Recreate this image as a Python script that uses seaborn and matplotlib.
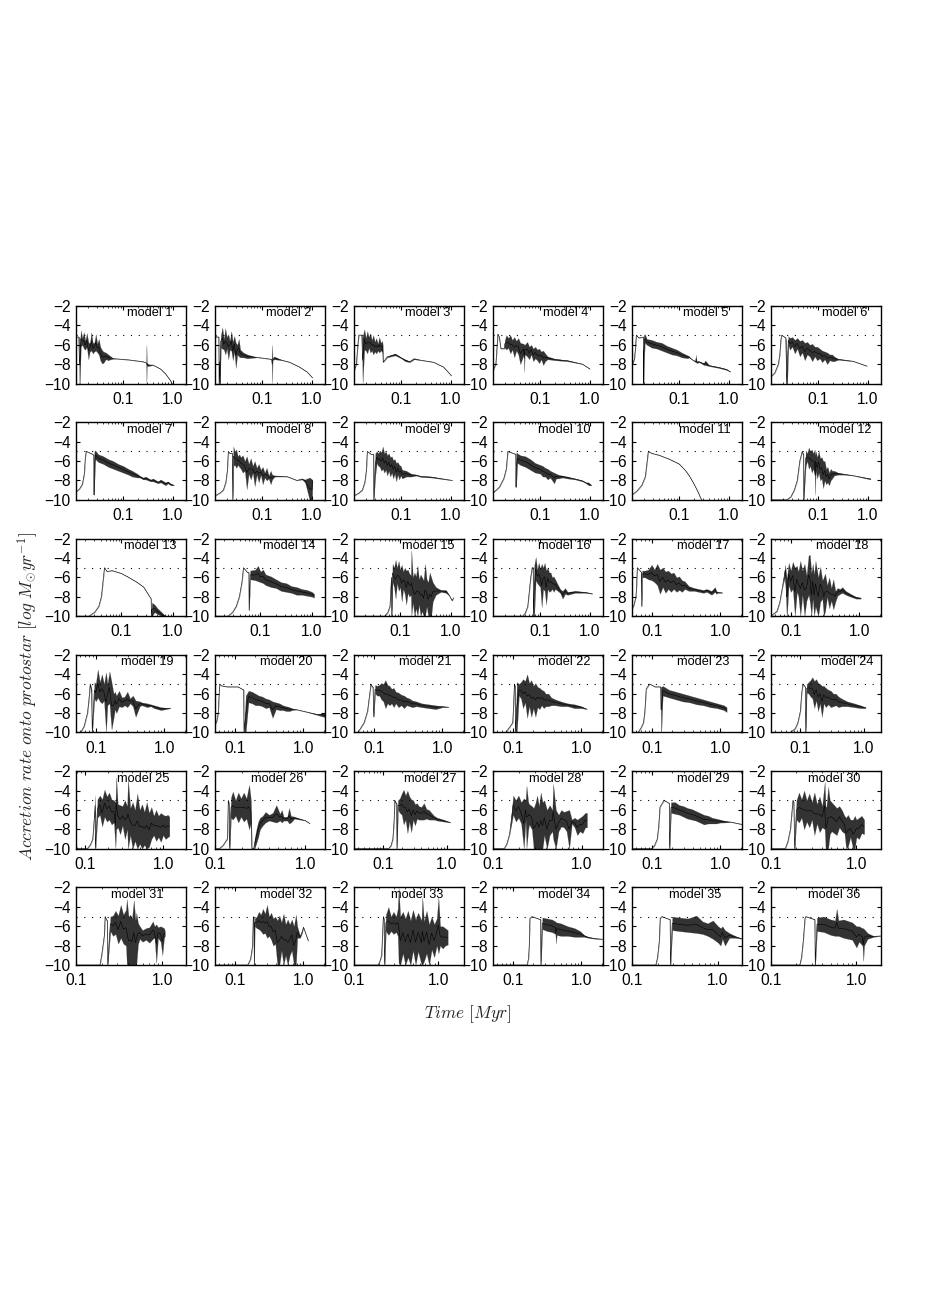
import matplotlib
matplotlib.use('Agg')
import matplotlib.pyplot as plt
from matplotlib.ticker import LogLocator, NullFormatter
import pandas as pd
import seaborn as sns

# each model: log10 time [Myr], upper and lower edge of the accretion rate
t01 = [-1.95,-1.89,-1.88,-1.87,-1.85,-1.82,-1.79,-1.76,-1.73,-1.70,-1.67,-1.64,-1.61,-1.58,-1.55,-1.52,-1.49,-1.46,-1.43,-1.40,-1.35,-1.30,-1.25,-1.20,-1.15,-.9,-.6,-.54,-.533,-.525,-.5,-.4,-.25,-.15,-.05,-.02]
h01 = [-5.2,-5.2,-5.2,-6,-4.5,-5.3,-4.7,-5.6,-4.8,-5.7,-5.9,-4.7,-5.8,-5.8,-4.9,-5.9,-5.4,-6.2,-6.5,-6.7,-6.8,-7,-7.2,-7.4,-7.45,-7.55,-7.75,-7.85,-6,-7.8,-8,-8.1,-8.5,-9,-9.7,-10]
l01 = [-5.2,-5.2,-10,-10,-6.2,-6,-6.4,-6.5,-6.2,-7.5,-6.7,-6.6,-6.9,-6.7,-6.6,-6.8,-7,-7.6,-7.9,-7.9,-7.5,-7.6,-7.5,-7.45,-7.45,-7.55,-7.75,-7.85,-10,-8.2,-8.2,-8.1,-8.5,-9,-9.7,-10]
t02 = [-1.95,-1.92,-1.87,-1.865,-1.85,-1.845,-1.83,-1.80,-1.77,-1.74,-1.71,-1.68,-1.65,-1.62,-1.59,-1.56,-1.53,-1.50,-1.47,-1.44,-1.38,-1.30,-1.1,-.81,-.80,-.79,-.76,-.6,-.45,-.25,-.1,.01]
h02 = [-4.9,-5.2,-5.2,-10,-5.5,-10,-5,-4.2,-5.4,-4.3,-5.2,-4.9,-5.6,-4.6,-5.7,-5.1,-5.8,-6,-5.4,-6.5,-6.8,-7,-7.3,-7.5,-6,-7.5,-7.2,-7.6,-7.8,-8.3,-8.8,-9.4]
l02 = [-4.9,-5.2,-5.2,-10,-10,-10,-6.3,-6.4,-6.5,-7,-6.4,-7.5,-6.5,-6.6,-7.6,-6.7,-8.4,-7,-7.2,-7.3,-7.3,-7.4,-7.3,-7.5,-10,-7.6,-7.5,-7.6,-7.8,-8.3,-8.8,-9.4]
t03 = [-1.95,-1.90,-1.87,-1.85,-1.79,-1.775,-1.74,-1.71,-1.68,-1.65,-1.62,-1.59,-1.56,-1.53,-1.50,-1.47,-1.44,-1.41,-1.38,-1.37,-1.36,-1.28,-1.12,-1.0,-.92,-.83,-.74,-.6,-.35,-.15,.01]
h03 = [-8.8,-8,-6,-5,-5,-5.2,-4.4,-5.3,-4.6,-5.2,-4.8,-5.5,-5,-5.7,-5.3,-5.9,-5.2,-5.8,-5.6,-6,-7.8,-7.2,-6.9,-7.3,-7.5,-7.7,-7.4,-7.6,-7.8,-8.3,-9.2]
l03 = [-8.8,-8,-6,-5,-5,-10,-6.5,-6.6,-6.9,-6.3,-6.8,-6.6,-7,-6.7,-6.9,-6.6,-6.8,-6.6,-6.7,-6.9,-7.8,-7.3,-7.1,-7.4,-7.7,-7.8,-7.5,-7.6,-7.8,-8.3,-9.2]
t04 = [-1.95,-1.89,-1.87,-1.85,-1.82,-1.79,-1.72,-1.71,-1.68,-1.64,-1.60,-1.56,-1.52,-1.48,-1.44,-1.40,-1.33,-1.32,-1.31,-1.26,-1.22,-1.18,-1.14,-1.10,-1.06,-1.02,-.98,-.94,-.90,-.85,-.7,-.45,-.15,.0]
h04 = [-8.7,-8,-6.5,-4.9,-5.2,-6.4,-6.4,-5.5,-5,-5.3,-5,-5.5,-5.2,-5.6,-5.3,-5.8,-5.9,-6,-6,-5.7,-6.2,-6,-6.4,-6.2,-6.5,-6.4,-6.7,-6.6,-6.9,-7.2,-7.45,-7.6,-8,-8.5]
l04 = [-8.7,-8,-6.5,-4.9,-5.2,-6.4,-6.4,-6.3,-6.5,-6.3,-6.9,-6.5,-7.3,-6.6,-7,-8,-7,-8.8,-7,-7.2,-7.5,-7,-7.7,-7.4,-7.6,-7.9,-7.5,-8.1,-7.7,-7.5,-7.6,-7.7,-8,-8.5]
t05 = [-1.95,-1.90,-1.88,-1.86,-1.81,-1.72,-1.715,-1.71,-1.69,-1.65,-1.55,-1.45,-1.35,-1.25,-1.15,-1.05,-.95,-.83,-.80,-.75,-.67,-.66,-.65,-.6,-.5,-.48,-.4,-.2,-.05,.03]
h05 = [-8.2,-7.5,-6.5,-5,-5.3,-5.2,-10,-5,-4.9,-5.4,-5.5,-5.7,-5.8,-6.1,-6.3,-6.5,-6.8,-7.1,-7.2,-7.5,-7.7,-7,-7.7,-7.7,-7.9,-7.6,-8.1,-8.3,-8.5,-8.8]
l05 = [-8.2,-7.5,-6.5,-5,-5.3,-5.2,-10,-8.8,-5.8,-6,-6.3,-6.4,-6.6,-6.8,-7,-7.1,-7.3,-7.4,-7.3,-7.5,-7.8,-7.8,-7.9,-7.8,-8.1,-8.1,-8.2,-8.4,-8.6,-8.8]
t06 = [-1.95,-1.87,-1.80,-1.77,-1.75,-1.73,-1.65,-1.64,-1.63,-1.62,-1.60,-1.57,-1.52,-1.47,-1.42,-1.37,-1.32,-1.27,-1.22,-1.17,-1.12,-1.07,-1.02,-.97,-.92,-.87,-.82,-.77,-.72,-.68,-.6,-.3,-.02]
h06 = [-9.3,-8.9,-8,-7,-5.5,-5,-5.3,-5.5,-10,-7,-5.1,-5.3,-5.2,-5.5,-5.3,-5.6,-5.5,-5.8,-5.7,-6,-5.9,-6.2,-6.2,-6.4,-6.6,-6.7,-6.8,-7,-7,-7.2,-7.45,-7.7,-8.2]
l06 = [-9.3,-8.9,-8,-7,-5.5,-5,-5.3,-10,-10,-10,-6,-6.5,-6.2,-6.9,-6.4,-7.2,-6.8,-7.6,-7,-7.2,-7.7,-7.2,-7.6,-7.4,-7.8,-7.5,-8,-7.6,-7.7,-7.7,-7.55,-7.7,-8.2]
t07 = [-1.95,-1.88,-1.82,-1.78,-1.76,-1.74,-1.61,-1.59,-1.585,-1.58,-1.56,-1.5,-1.4,-1.3,-1.2,-1.1,-1,-.9,-.82,-.72,-.67,-.6,-.55,-.45,-.4,-.3,-.25,-.15,-.1,-.05,.02]
h07 = [-9.2,-8.9,-8.4,-7.3,-5.6,-5,-5.3,-5.4,-9.5,-5,-4.9,-5.3,-5.5,-5.8,-6,-6.3,-6.5,-6.8,-7,-7.3,-7.5,-7.7,-7.6,-7.9,-7.8,-8.1,-7.9,-8.2,-8.1,-8.3,-8.5]
l07 = [-9.2,-8.9,-8.4,-7.3,-5.6,-5,-5.3,-5.4,-9.5,-8.5,-5.8,-6.1,-6.3,-6.6,-6.8,-7,-7.2,-7.4,-7.6,-7.7,-7.7,-7.9,-7.9,-8.1,-8.1,-8.3,-8.2,-8.5,-8.3,-8.5,-8.5]
t08 = [-1.95,-1.85,-1.78,-1.73,-1.70,-1.68,-1.65,-1.60,-1.59,-1.58,-1.55,-1.52,-1.49,-1.46,-1.43,-1.39,-1.35,-1.31,-1.27,-1.23,-1.19,-1.15,-1.11,-1.07,-1.03,-.99,-.95,-.91,-.87,-.83,-.80,-.75,-.5,-.3,-.2,-.14,-.1,-.05,-.02,.0,.01]
h08 = [-9.6,-9.3,-9,-8.2,-7,-5,-5.2,-5.2,-10,-4.5,-5,-4.8,-5.5,-5.3,-5.6,-5.4,-6,-5.5,-6.3,-5.7,-6.5,-6,-6.7,-6.3,-6.9,-6.6,-7.2,-6.7,-7.5,-7,-7.4,-7.5,-7.6,-8,-7.8,-7.9,-7.8,-7.7,-7.8,-7.9,-8]
l08 = [-9.6,-9.3,-9,-8.2,-7,-5,-5.2,-5.2,-10,-6.5,-6.4,-6.7,-6.4,-6.6,-6.8,-7.2,-7,-8.9,-7.3,-7.9,-7.2,-8.6,-7.4,-8.2,-7.4,-8.4,-7.7,-8,-7.8,-8.4,-7.9,-7.6,-7.6,-8,-7.9,-8.2,-9,-10,-10,-10,-8]
t09 = [-1.95,-1.85,-1.78,-1.73,-1.70,-1.68,-1.6,-1.555,-1.55,-1.52,-1.49,-1.46,-1.43,-1.40,-1.37,-1.34,-1.31,-1.28,-1.25,-1.22,-1.19,-1.16,-1.13,-1.10,-1.07,-1.04,-1.01,-.98,-.9,-.8,-.7,-.6,-.4,.03]
h09 = [-9.6,-9.3,-9,-8.2,-7,-5,-5.3,-5.3,-10,-5.2,-5,-5.2,-4.9,-5.1,-4.5,-5.2,-5,-5.4,-5.2,-5.6,-5.5,-5.9,-5.8,-6.2,-6.1,-6.4,-6.5,-6.9,-7,-7.3,-7.4,-7.55,-7.6,-8]
l09 = [-9.6,-9.3,-9,-8.2,-7,-5,-5.3,-5.3,-10,-7.5,-6.2,-6.5,-6.6,-7,-6.8,-7.2,-6.9,-7.5,-7,-7.6,-7.2,-7.8,-7.3,-8.1,-7.4,-7.9,-7.5,-7.8,-7.6,-7.6,-7.5,-7.65,-7.7,-8]
t10 = [-1.95,-1.82,-1.73,-1.68,-1.65,-1.49,-1.485,-1.48,-1.46,-1.4,-1.3,-1.2,-1.1,-1,-.95,-.9,-.85,-.8,-.72,-.68,-.64,-.55,-.45,-.3,-.15,-.08,-.03,.03]
h10 = [-9.3,-8.7,-7.8,-6.8,-5,-5.3,-8.7,-5.1,-5.2,-5.4,-5.5,-5.8,-6.2,-6.4,-6.5,-6.7,-6.8,-7,-7.2,-7.3,-7.4,-7.5,-7.6,-7.8,-8,-8.2,-8.2,-8.5]
l10 = [-9.3,-8.7,-7.8,-6.8,-5,-5.3,-8.7,-8.5,-6.2,-6.4,-6.6,-6.9,-7.2,-7.3,-7.6,-7.6,-7.9,-7.7,-8.3,-7.8,-7.8,-7.7,-7.8,-7.9,-8.1,-8.3,-8.5,-8.5]
t11 = [-1.95,-1.85,-1.75,-1.68,-1.65,-1.62,-1.55,-1.4,-1.2,-1.0,-.87,-.8,-.72,-.62,-.58,-.55]
h11 = [-9.5,-9.1,-8.5,-7.6,-6.3,-5,-5.2,-5.4,-5.8,-6.3,-7,-7.5,-8.2,-9.2,-9.7,-10]
l11 = [-9.5,-9.1,-8.5,-7.6,-6.3,-5,-5.2,-5.4,-5.8,-6.3,-7,-7.5,-8.2,-9.2,-9.7,-10]
t12 = [-1.95,-1.63,-1.55,-1.48,-1.42,-1.37,-1.32,-1.3,-1.295,-1.29,-1.25,-1.22,-1.19,-1.16,-1.13,-1.10,-1.07,-1.06,-1.05,-1.02,-.99,-.96,-.93,-.90,-.87,-.84,-.81,-.78,-.75,-.72,-.68,-.6,-.5,-.3,.05]
h12 = [-10,-10,-9.7,-9,-8,-6,-5,-5.3,-5.3,-10,-4.9,-5.2,-4.6,-5,-4.8,-5.2,-4.8,-5.4,-5,-5.6,-5,-5.7,-5.6,-6,-6,-6.8,-6.6,-7.2,-6.8,-7,-7,-7.2,-7.3,-7.5,-7.8]
l12 = [-10,-10,-9.7,-9,-8,-6,-5,-5.3,-5.3,-10,-6.5,-6,-6.8,-6.5,-7.2,-6.8,-7.5,-9.5,-7,-7.8,-7.2,-8,-7.8,-8.8,-8,-8.4,-8.2,-8.5,-8,-7.8,-7.5,-7.4,-7.4,-7.5,-7.9]
t13 = [-1.89,-1.63,-1.52,-1.44,-1.39,-1.35,-1.33,-1.28,-1.18,-1.0,-.86,-.7,-.57,-.44,-.425,-.42,-.41,-.36,-.3,-.22,-.15]
h13 = [-10,-10,-9.6,-9,-8,-6,-5,-5.4,-5.3,-5.6,-6,-6.5,-7,-8.1,-8.2,-10,-8.6,-8.8,-9.2,-9.6,-10]
l13 = [-10,-10,-9.6,-9,-8,-6,-5,-5.4,-5.3,-5.6,-6,-6.5,-7,-8.1,-8.2,-10,-10,-9.6,-9.8,-10,-10]
t14 = [-1.89,-1.63,-1.54,-1.47,-1.41,-1.36,-1.33,-1.25,-1.225,-1.22,-1.2,-1.1,-1.05,-1,-.95,-.9,-.8,-.7,-.6,-.5,-.4,-.3,-.2,-.1,0,.04]
h14 = [-10,-10,-9.6,-9,-8,-6.5,-5,-5.5,-5.5,-9.4,-5.3,-5.2,-4.8,-5.4,-5.2,-5.7,-5.9,-6.2,-6.5,-6.6,-6.9,-7,-7.2,-7.3,-7.5,-7.7]
l14 = [-10,-10,-9.6,-9,-8,-6.5,-5,-5.5,-5.5,-9.4,-6.2,-6.3,-6.4,-6.5,-6.6,-6.8,-7,-7.1,-7.4,-7.5,-7.6,-7.8,-7.8,-7.9,-8,-8.1]
t15 = [-1.92,-1.3,-1.24,-1.2,-1.17,-1.165,-1.15,-1.12,-1.09,-1.06,-1.03,-1,-.97,-.94,-.91,-.88,-.85,-.82,-.79,-.78,-.75,-.72,-.69,-.66,-.63,-.6,-.57,-.54,-.51,-.48,-.45,-.42,-.39,-.36,-.3,-.2,-.1,-.03,.02,.05]
h15 = [-10,-10,-9.6,-9,-6,-10,-4.6,-5,-4.2,-5,-4.3,-5.2,-4.7,-5.4,-5,-5.3,-5.2,-5.6,-5.8,-3.2,-6,-5.5,-5.9,-4.8,-6.2,-5.7,-6,-6.3,-4.6,-6.2,-6.5,-5.5,-6,-6.5,-7,-7.3,-7.3,-7.9,-8.4,-8.1]
l15 = [-10,-10,-9.6,-9,-6,-10,-6.5,-7,-8.2,-6.6,-7.4,-7,-8.5,-7.2,-7.7,-8.8,-7.6,-8,-7.8,-10,-8.6,-10,-9.2,-10,-8.8,-10,-9.5,-10,-10,-9,-10,-10,-10,-8.5,-7.8,-7.5,-7.6,-7.9,-8.4,-8.1]
t16 = [-1.95,-1.35,-1.3,-1.25,-1.19,-1.16,-1.14,-1.135,-1.12,-1.09,-1.06,-1.03,-1,-.97,-.94,-.91,-.88,-.85,-.82,-.79,-.76,-.73,-.7,-.6,-.55,-.5,-.45,-.3,-.1,.05]
h16 = [-10,-10,-9.7,-9,-6,-5,-5,-10,-4.8,-3.9,-5.2,-4.5,-5.1,-4.6,-5,-4.5,-5.3,-5,-5.5,-5.5,-6,-5.9,-6.2,-7.2,-7.4,-7.1,-7.5,-7.4,-7.5,-7.7]
l16 = [-10,-10,-9.7,-9,-6,-5,-5,-10,-10,-6.3,-6.6,-6.8,-7,-9.1,-7.2,-7.4,-8.8,-7.2,-7.5,-7.4,-7.2,-7.5,-7.2,-7.6,-8.2,-7.7,-7.8,-7.6,-7.6,-7.7]
t17 = [-1.29,-1.26,-1.23,-1.22,-1.21,-1.16,-1.15,-1.145,-1.14,-1.1,-1.05,-1,-.96,-.92,-.88,-.84,-.8,-.76,-.72,-.68,-.64,-.6,-.56,-.52,-.46,-.38,-.25,-.2,-.13,-.08,-.06,-.04,.03]
h17 = [-9.3,-8.9,-8,-6.8,-5,-5.4,-5.5,-9,-5.3,-5.3,-5.2,-4.7,-5.2,-4.6,-5.2,-5,-5.4,-5.3,-5.6,-5.5,-6,-5.9,-6.3,-6.4,-6.9,-7.1,-7.3,-7.2,-7.4,-7,-7.4,-7.5,-7.6]
l17 = [-9.3,-8.9,-8,-6.8,-5,-5.4,-5.5,-9,-6,-6,-6.2,-6.3,-6.5,-6.8,-7.7,-7,-7.6,-7.2,-7.5,-7.2,-7.5,-7.3,-7.5,-7.2,-7.4,-7.4,-7.6,-7.5,-7.8,-7.5,-7.7,-7.6,-7.6]
t18 = [-1.29,-1.2,-1.16,-1.12,-1.08,-1.06,-1.055,-1.03,-1,-.97,-.94,-.91,-.89,-.86,-.83,-.8,-.77,-.74,-.72,-.7,-.68,-.66,-.64,-.6,-.57,-.54,-.52,-.5,-.47,-.44,-.41,-.38,-.35,-.32,-.28,-.25,-.2,-.13,-.05,.02]
h18 = [-10,-9.5,-8.6,-7,-4.7,-6,-6,-4.5,-5.3,-4.4,-5,-4.8,-5.4,-4.3,-5.3,-4.6,-5.8,-3.7,-3.7,-5.6,-4.6,-5.7,-4.3,-6,-4.9,-6.3,-6,-5.6,-6.8,-6,-7.1,-6.2,-7.4,-7.1,-7.2,-7,-7.4,-7.7,-8,-8.1]
l18 = [-10,-9.5,-8.6,-7,-5.8,-10,-10,-6.8,-7.5,-7.2,-10,-7.5,-7.9,-10,-7.8,-10,-8.4,-7.8,-8.6,-10,-8.2,-10,-9,-10,-8.5,-8.2,-10,-9.5,-8,-9.2,-8.4,-9.3,-8.5,-7.9,-7.7,-7.6,-7.8,-8,-8.2,-8.2]
t19 = [-1.22,-1.17,-1.12,-1.1,-1.08,-1.06,-1.05,-1.02,-1,-.97,-.94,-.91,-.88,-.85,-.83,-.8,-.77,-.74,-.72,-.7,-.66,-.62,-.58,-.54,-.5,-.46,-.42,-.36,-.33,-.25,-.2,-.15,-.05,.09]
h19 = [-10,-9.4,-8,-6.7,-5,-5.5,-10,-4.8,-5,-3.5,-4.8,-4,-5,-3.8,-5,-3.7,-4.8,-6,-5.8,-6.2,-5.7,-6.4,-6.3,-5.8,-6.5,-6.2,-6.7,-6.8,-6.9,-7,-7.1,-7.2,-7.4,-7.5]
l19 = [-10,-9.4,-8,-6.7,-5,-6,-10,-6.5,-6.8,-6.4,-6.8,-7,-6.7,-10,-7.2,-7,-9.7,-8.5,-7.6,-8,-7.3,-7.4,-7.2,-7.4,-7,-7.3,-8.4,-7.3,-7.2,-7.4,-7.3,-7.5,-7.7,-7.5]
t20 = [-1.29,-1.26,-1.24,-1.23,-1.22,-1.19,-1.1,-.95,-.875,-.87,-.865,-.84,-.8,-.75,-.7,-.65,-.6,-.55,-.5,-.45,-.4,-.35,-.3,-.25,-.2,-.17,-.1,.05,.2,.3,.32]
h20 = [-9.3,-8.8,-8,-6.5,-5,-5.2,-5.3,-5.3,-5.6,-5.6,-10,-6.2,-5.7,-5.8,-6,-6.2,-6.3,-6.5,-6.6,-6.8,-6.9,-7,-7.2,-7.3,-7.4,-7.5,-7.65,-7.9,-8.1,-8,-8.3]
l20 = [-9.3,-8.8,-8,-6.5,-5,-5.2,-5.3,-5.3,-5.6,-5.6,-10,-10,-6.9,-7,-7.2,-7.2,-7.3,-7.5,-7.4,-8.5,-7.6,-7.7,-7.7,-7.8,-7.8,-7.7,-7.65,-7.9,-8.2,-8.4,-8.3]
t21 = [-1.29,-1.23,-1.14,-1.09,-1.04,-1.02,-1.01,-1,-.98,-.95,-.92,-.89,-.86,-.83,-.8,-.77,-.74,-.71,-.68,-.64,-.6,-.56,-.52,-.48,-.44,-.38,-.3,-.2,-.1,0,.09]
h21 = [-10,-10,-9,-7.8,-5,-5.3,-5.3,-8.4,-5.1,-5.2,-5.1,-4.9,-5,-4.6,-5.1,-5.2,-5.5,-5.4,-5.8,-5.9,-6.1,-6.2,-6.4,-6.5,-6.7,-6.8,-7,-7.1,-7.2,-7.3,-7.4]
l21 = [-10,-10,-9,-7.8,-5,-5.3,-5.3,-8.4,-6,-6.2,-6.2,-6.6,-6.8,-7.5,-7,-7.2,-7,-7.4,-7,-7.4,-7.2,-7.5,-7.2,-7.3,-7.4,-7.3,-7.4,-7.5,-7.6,-7.4,-7.4]
t22 = [-1.29,-1.1,-1,-.99,-.975,-.97,-.965,-.96,-.94,-.91,-.88,-.85,-.82,-.79,-.76,-.73,-.7,-.67,-.64,-.61,-.58,-.55,-.52,-.48,-.44,-.38,-.3,-.2,-.1,0,.08]
h22 = [-10,-10,-9,-7.5,-5,-5.2,-5.2,-10,-4.8,-5,-4.8,-4.5,-4.7,-4,-4.9,-4.6,-5.2,-4.9,-5.3,-5.4,-5.6,-5.7,-6,-6,-6.4,-6.6,-6.8,-7,-7.1,-7.3,-7.6]
l22 = [-10,-10,-9,-7.5,-5,-5.2,-5.2,-10,-10,-6.2,-6.5,-7.5,-6.9,-8.5,-7.3,-8.4,-7.5,-8.4,-7.4,-7.6,-7.2,-7.5,-7.3,-7.3,-7.2,-7.2,-7.3,-7.3,-7.5,-7.5,-7.6]
t23 = [-1.29,-1.2,-1.16,-1.12,-1.1,-1.08,-1.03,-.95,-.87,-.865,-.86,-.84,-.75,-.65,-.55,-.45,-.35,-.25,-.15,-.05,.05,.09]
h23 = [-10,-10,-9.6,-9,-7.8,-5.5,-5,-5.3,-5.3,-5.3,-5.3,-5.2,-5.6,-5.8,-6,-6.2,-6.4,-6.6,-6.8,-7,-7.2,-7.4]
l23 = [-10,-10,-9.6,-9,-7.8,-5.5,-5,-5.3,-5.3,-10,-10,-6.2,-6.4,-6.6,-6.8,-6.9,-7.1,-7.2,-7.4,-7.5,-7.7,-7.9]
t24 = [-1.47,-1.16,-1.08,-1.04,-1,-.98,-.96,-.925,-.92,-.915,-.9,-.87,-.84,-.81,-.78,-.75,-.72,-.69,-.66,-.63,-.6,-.56,-.52,-.48,-.44,-.4,-.35,-.26,-.15,-.05,.03]
h24 = [-10,-10,-9.6,-9,-7.8,-6,-5,-5.3,-5.3,-10,-5,-4.8,-4.6,-4.3,-4.7,-4.5,-4.9,-5,-5.2,-5.2,-5.4,-5.6,-5.7,-6,-6,-6.3,-6.5,-6.8,-7,-7.2,-7.4]
l24 = [-10,-10,-9.6,-9,-7.8,-6,-5,-5.3,-5.3,-10,-5.9,-6,-6.3,-6.5,-7.5,-6.7,-7.8,-7,-8.4,-7,-7.4,-7.1,-7.4,-7.3,-7.2,-7.4,-7.3,-7.3,-7.4,-7.5,-7.5]
t25 = [-1.12,-.97,-.93,-.9,-.88,-.87,-.865,-.84,-.81,-.78,-.75,-.72,-.69,-.66,-.63,-.61,-.6,-.58,-.55,-.52,-.49,-.46,-.45,-.42,-.39,-.36,-.33,-.3,-.27,-.24,-.21,-.18,-.15,-.12,-.09,-.06,-.03,0,.03,.06,.08]
h25 = [-10,-10,-9.6,-9,-6.8,-4.5,-10,-4.9,-4.5,-4.9,-3.9,-4.6,-4.2,-4.9,-5,-5.2,-2.6,-5.4,-5.5,-5.6,-5,-5.6,-2.8,-5.8,-5.2,-6,-4.3,-6,-5.4,-6.2,-5.2,-6.3,-5.7,-6.6,-6,-6.6,-6.3,-6.5,-6.6,-6.5,-6.7]
l25 = [-10,-10,-9.6,-9,-6.8,-6.6,-10,-6.8,-6.5,-7.7,-6.7,-7.2,-7,-7.5,-7.3,-10,-8,-7.8,-8.5,-7.6,-9,-8,-10,-8.6,-10,-9.2,-10,-9.5,-10,-9.6,-10,-9.8,-9,-8.6,-9.2,-8.8,-9.3,-8.6,-9,-8.8,-8.7]
t26 = [-1,-.95,-.91,-.86,-.855,-.85,-.84,-.835,-.82,-.8,-.77,-.74,-.71,-.68,-.65,-.62,-.6,-.59,-.58,-.57,-.56,-.54,-.52,-.5,-.47,-.44,-.4,-.36,-.32,-.28,-.26,-.24,-.2,-.18,-.16,-.12,0,.05]
h26 = [-10,-10,-9.7,-9,-7.4,-5,-5.4,-10,-4.7,-4.1,-5,-4.2,-4.8,-4.2,-4.8,-3.4,-5,-10,-10,-10,-9,-8,-7.2,-6.8,-6.6,-6.2,-6.5,-6.3,-5.5,-6.4,-6,-6.7,-6.7,-5.8,-6.6,-6.7,-7.1,-7.4]
l26 = [-10,-10,-9.7,-9,-7.4,-5,-5.4,-10,-6.8,-7,-6.6,-7.3,-6.7,-7.2,-6.9,-8,-7.3,-10,-10,-10,-10,-9.4,-8.8,-8,-7.6,-7.3,-7.1,-7.2,-7.3,-7.1,-7.3,-7.1,-7.1,-7.4,-7.3,-6.9,-7.1,-7.4]
t27 = [-1.47,-.92,-.88,-.85,-.83,-.82,-.8,-.79,-.785,-.77,-.74,-.71,-.68,-.65,-.62,-.59,-.56,-.53,-.5,-.47,-.44,-.4,-.36,-.32,-.28,-.24,-.2,-.15,-.05,.06]
h27 = [-10,-10,-9.7,-9,-7,-5,-5.3,-5.3,-10,-5,-4.8,-4.3,-3.9,-4.5,-4,-4.6,-4.9,-5,-5.4,-5.3,-5.6,-5.7,-5.3,-5.9,-6,-6.3,-6.6,-6.8,-7,-7.3]
l27 = [-10,-10,-9.7,-9,-7,-5,-5.3,-5.3,-10,-6,-6.3,-6.5,-7.5,-7,-8.4,-7.2,-8.3,-7,-7.6,-6.9,-7,-7,-7,-6.9,-7,-7,-7,-7.1,-7.2,-7.3]
t28 = [-1,-.87,-.84,-.81,-.78,-.77,-.74,-.71,-.68,-.65,-.63,-.62,-.6,-.59,-.56,-.54,-.52,-.5,-.48,-.46,-.44,-.42,-.39,-.36,-.33,-.32,-.29,-.26,-.23,-.2,-.17,-.14,-.11,-.08,-.05,-.02,.01,.04,.06]
h28 = [-10,-10,-9.5,-8.5,-5.5,-4.5,-5,-4.5,-5.2,-4.8,-5,-3.5,-5.2,-5.4,-5.6,-5.8,-5.3,-4.5,-5.6,-4.2,-5.2,-5,-6,-5.5,-6,-3.3,-6,-6.5,-6,-6.2,-6.1,-6,-7,-6.8,-7,-6.8,-6.6,-6.3,-6.3]
l28 = [-10,-10,-9.5,-8.5,-7,-6.5,-7.2,-6.8,-7.4,-10,-7,-10,-8,-7.5,-8,-10,-10,-10,-10,-10,-10,-8.6,-10,-8.6,-8.2,-9,-10,-8.2,-7.7,-7.8,-8.2,-10,-7.4,-7.8,-8.6,-8.2,-8.4,-7.8,-7.8]
t29 = [-1.29,-1,-.96,-.92,-.9,-.88,-.82,-.75,-.745,-.74,-.72,-.66,-.6,-.54,-.48,-.42,-.36,-.3,-.24,-.18,-.12,-.06,0,.05,.15,.32]
h29 = [-10,-10,-9.7,-9,-7.8,-5.7,-5,-5.3,-5.3,-10,-5.2,-5.2,-5.5,-5.6,-5.8,-5.9,-6.1,-6.3,-6.5,-6.6,-6.8,-6.9,-7,-7.1,-7.25,-7.5]
l29 = [-10,-10,-9.7,-9,-7.8,-5.7,-5,-5.3,-5.3,-10,-6.3,-6.4,-6.5,-6.7,-6.9,-7,-7.1,-7.3,-7.5,-7.4,-7.4,-7.4,-7.3,-7.3,-7.25,-7.5]
t30 = [-1,-.83,-.8,-.77,-.74,-.73,-.72,-.7,-.67,-.64,-.61,-.58,-.55,-.52,-.49,-.46,-.43,-.4,-.37,-.36,-.35,-.33,-.31,-.29,-.26,-.23,-.2,-.17,-.14,-.12,-.1,-.07,-.04,-.02,0,.03,.06,.09]
h30 = [-10,-10,-9.3,-8,-5,-5.2,-10,-5,-4.2,-4.9,-4,-5,-4.3,-5.2,-4.2,-5.4,-4.6,-5.6,-3.1,-5.6,-5.7,-3.6,-5,-5.2,-5.5,-5.8,-5.6,-6,-6.6,-6.8,-6.5,-7,-7,-6.6,-7,-6.8,-6.6,-7]
l30 = [-10,-10,-9.3,-8,-5,-5.2,-10,-7,-7.3,-6.8,-8,-7.2,-7.8,-7,-8.6,-7.4,-8.3,-7.8,-8,-10,-10,-10,-8.5,-8.2,-8.4,-8.6,-7.8,-8.2,-8.4,-10,-9.8,-8.8,-10,-10,-8.8,-9,-8.4,-8.5]
t31 = [-1,-.72,-.7,-.67,-.66,-.64,-.635,-.63,-.6,-.57,-.54,-.51,-.48,-.45,-.42,-.41,-.39,-.37,-.35,-.33,-.31,-.3,-.28,-.26,-.23,-.19,-.15,-.11,-.09,-.07,-.05,-.02,0,.02,.03]
h31 = [-10,-10,-9,-7,-5,-5.4,-5.4,-10,-5,-4.9,-4.4,-4.9,-3.8,-4.8,-4.3,-3.2,-5,-4.8,-5.2,-3.3,-5.4,-4.6,-5.7,-6,-6.4,-6.2,-6.1,-5.5,-6,-5.8,-6.1,-6,-6.1,-6.2,-6.5]
l31 = [-10,-10,-9,-7,-5,-5.4,-5.4,-10,-6.5,-7,-6.8,-7.8,-7.2,-7.8,-8,-10,-10,-10,-10,-10,-10,-10,-7.8,-7.3,-7.6,-7.4,-7.7,-7.3,-7.2,-9.8,-7.2,-7.6,-9,-7.2,-7]
t32 = [-1.29,-.81,-.77,-.74,-.73,-.72,-.715,-.71,-.68,-.65,-.62,-.59,-.56,-.53,-.5,-.47,-.44,-.41,-.38,-.35,-.32,-.29,-.26,-.23,-.2,-.17,-.14,-.11,-.09,-.05,-.02,.0,.03,.07]
h32 = [-10,-10,-9.4,-8,-5,-5.2,-10,-5.2,-5,-4.5,-4.8,-4.2,-4.7,-3.8,-5,-4.6,-5.2,-5,-5.4,-4.9,-5.6,-4.7,-5.8,-5.3,-5.8,-5.3,-6,-4.8,-6,-7,-6.5,-6.1,-6.7,-7.5]
l32 = [-10,-10,-9.4,-8,-5,-5.2,-10,-6,-6.2,-6.3,-6.5,-6.8,-6.7,-7.2,-7,-7.4,-8,-7.8,-10,-10,-8.5,-10,-9,-10,-9,-8.5,-10,-10,-7.2,-7.2,-6.7,-6.1,-6.7,-7.5]
t33 = [-1,-.71,-.69,-.67,-.66,-.65,-.64,-.635,-.62,-.59,-.56,-.53,-.5,-.48,-.47,-.45,-.42,-.39,-.36,-.33,-.3,-.27,-.24,-.2,-.19,-.17,-.14,-.11,-.08,-.05,-.02,0,.02,.05,.08,.11]
h33 = [-10,-10,-9.6,-9,-7,-5,-5.3,-10,-4.8,-4,-5,-4.5,-5,-4.2,-2,-5,-4.5,-5.2,-4.4,-5.4,-4.3,-5.3,-4.6,-5.4,-3,-5.5,-4.4,-5.8,-5,-5.8,-5.2,-3,-6,-6,-6.2,-6.4]
l33 = [-10,-10,-9.6,-9,-7,-5,-5.3,-10,-6.5,-6.9,-6.5,-6.8,-6.6,-7,-9.8,-10,-8.8,-10,-9.2,-10,-8.5,-10,-8.6,-10,-10,-9.6,-8.8,-10,-8.4,-9.2,-8,-8.8,-8,-8.3,-8,-7.9]
t34 = [-1.29,-.79,-.77,-.76,-.75,-.72,-.6,-.595,-.59,-.57,-.5,-.43,-.38,-.37,-.36,-.3,-.2,-.1,-.02,.04,.1,.2,.32]
h34 = [-10,-10,-9.3,-8,-5.2,-5,-5.3,-5.3,-10,-5.1,-5.2,-5.3,-5.5,-5.6,-5.6,-5.7,-6,-6.2,-6.5,-6.9,-7.1,-7.25,-7.35]
l34 = [-10,-10,-9.3,-8,-5.2,-5,-5.3,-5.3,-10,-6.3,-6.5,-6.6,-6.8,-7.8,-6.9,-7,-7,-7.1,-7.1,-7.1,-7.2,-7.3,-7.35]
t35 = [-1,-.72,-.7,-.68,-.67,-.65,-.56,-.555,-.55,-.53,-.45,-.35,-.25,-.18,-.12,-.06,0,.03,.05,.08,.13,.2,.28]
h35 = [-10,-10,-9.2,-7.5,-5.2,-5,-5.3,-5.3,-10,-5,-5.1,-5.2,-4.9,-5.5,-5.7,-5.4,-6,-6.2,-6,-6.4,-6.7,-7,-7.3]
l35 = [-10,-10,-9.2,-7.5,-5.2,-5,-5.3,-5.3,-10,-6.4,-6.5,-6.6,-6.7,-6.8,-7,-7.3,-7.7,-8,-7.3,-8,-7.2,-7.2,-7.3]
t36 = [-1,-.66,-.64,-.62,-.6,-.59,-.49,-.485,-.48,-.46,-.38,-.3,-.25,-.23,-.21,-.15,-.05,0,.03,.07,.08,.09,.13,.2,.29]
h36 = [-10,-10,-9.2,-7.5,-5.2,-5,-5.3,-5.3,-10,-5.1,-5,-5.3,-5.4,-4.2,-5.4,-5.3,-5.6,-6,-6,-6.2,-6.2,-6.3,-6.7,-7,-7]
l36 = [-10,-10,-9.2,-7.5,-5.2,-5,-5.3,-5.3,-10,-6.5,-6.6,-6.9,-7,-7,-7,-7.2,-7.4,-8.2,-7.6,-8,-9.6,-8,-7.3,-7.1,-7]

times = [t01,t02,t03,t04,t05,t06,t07,t08,t09,t10,t11,t12,t13,t14,t15,t16,t17,t18,
         t19,t20,t21,t22,t23,t24,t25,t26,t27,t28,t29,t30,t31,t32,t33,t34,t35,t36]
uppers = [h01,h02,h03,h04,h05,h06,h07,h08,h09,h10,h11,h12,h13,h14,h15,h16,h17,h18,
          h19,h20,h21,h22,h23,h24,h25,h26,h27,h28,h29,h30,h31,h32,h33,h34,h35,h36]
lowers = [l01,l02,l03,l04,l05,l06,l07,l08,l09,l10,l11,l12,l13,l14,l15,l16,l17,l18,
          l19,l20,l21,l22,l23,l24,l25,l26,l27,l28,l29,l30,l31,l32,l33,l34,l35,l36]

a = (0.0111, 1.85)
b = (0.051, 2.08)
c = (0.0339, 1.9)
xlims = [a,a,a,a,a,a, a,a,a,a,a,a,
         (0.0129,1.81),(0.0129,1.81),(0.0122,1.82),a,b,b,
         b,b,b,b,b,c,
         (0.076,1.98),(0.0999,1.66),c,(0.0999,1.75),b,(0.0999,1.95),
         (0.0999,1.89),b,(0.0999,2.02),b,(0.0999,1.91),(0.0999,1.95)]
label_x = [.67,.67,.67,.663,.67,.67, .67,.67,.67,.65,.665,.67,
           .67,.67,.67,.65,.65,.65, .65,.65,.645,.645,.65,.69,
           .61,.567,.69,.565,.65,.57, .56,.65,.57,.645,.57,.57]

sns.set_style('ticks')
plt.rcParams['font.family'] = ['Liberation Sans', 'DejaVu Sans']
plt.rcParams['mathtext.fontset'] = 'cm'

fig, axes = plt.subplots(6, 6, figsize=(9.26, 13.11), dpi=100)
fig.subplots_adjust(left=75.6/926, right=881.3/926, top=1-306/1311, bottom=1-965/1311,
                    wspace=0.2556, hspace=0.5)

for i, ax in enumerate(axes.flat):
    rows = [(10**x, y) for x, y in zip(times[i], uppers[i])]
    rows += [(10**x, y) for x, y in zip(times[i], lowers[i])]
    df = pd.DataFrame(rows, columns=['time', 'rate'])
    ax.set_xscale('log')
    sns.lineplot(data=df, x='time', y='rate', estimator='mean', errorbar=('pi', 100),
                 color='black', linewidth=0.4,
                 err_kws={'alpha': 0.8, 'linewidth': 0.15, 'edgecolor': '#444444'}, ax=ax)
    ax.axhline(-5, color='black', linewidth=0.8, linestyle=(0, (1, 6)))
    ax.set_xlim(xlims[i])
    ax.set_ylim(-10, -2)
    ax.set_yticks([-2, -4, -6, -8, -10])
    ax.set_xticks([0.1, 1.0])
    ax.set_xticklabels(['0.1', '1.0'])
    ax.xaxis.set_minor_locator(LogLocator(base=10, subs=range(2, 10), numticks=12))
    ax.xaxis.set_minor_formatter(NullFormatter())
    ax.tick_params(which='major', direction='in', top=True, right=True, length=3,
                   width=0.8, labelsize=11.2, pad=3.5, color='black', labelcolor='black')
    ax.tick_params(axis='x', which='major', pad=6)
    ax.tick_params(which='minor', direction='in', top=True, length=1.5, width=0.6)
    ax.set_xlabel('')
    ax.set_ylabel('')
    for s in ax.spines.values():
        s.set_linewidth(1.0)
        s.set_color('black')
    ax.text(label_x[i], 0.905, 'model %d' % (i + 1), transform=ax.transAxes,
            ha='center', va='center', fontsize=9.2, color='black')

fig.text(28/926, 1-696/1311, r'$Accretion\ rate\ onto\ protostar\ [log\ M_{\odot}yr^{-1}]$',
         rotation=90, ha='center', va='center', fontsize=12.5)
fig.text(468/926, 1-1014/1311, r'$Time\ [Myr]$', ha='center', va='center', fontsize=12.5)

fig.savefig('out.png', dpi=100)
